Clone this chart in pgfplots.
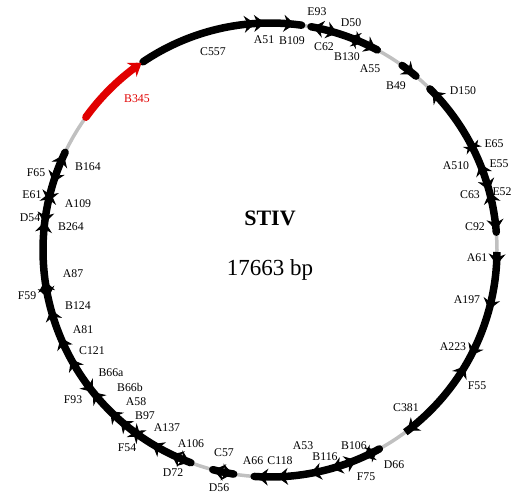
\documentclass[border=0pt]{standalone}
\usepackage{pgfplots}
\pgfplotsset{compat=1.18}
\usepackage{pgfplotstable}
\usetikzlibrary{arrows.meta}
\usepackage{fontspec}
\setmainfont{Liberation Serif}
\definecolor{arcgray}{RGB}{192,192,192}
\definecolor{genered}{RGB}{225,0,0}

% label positions (offsets in px from circle centre)
\pgfplotstableread{
x y label
-57 198 C557
-6 210 A51
22 209 B109
54 203 C62
77 193 B130
100 181 A55
126 164 B49
186 84 A510
200 55 C63
205 23 C92
207 -8 A61
197 -50 A197
183 -97 A223
136 -158 C381
84 -196 B106
55 -207 B116
33 -196 A53
10 -211 C118
-17 -211 A66
-46 -203 C57
-79 -194 A106
-103 -178 A137
-125 -166 B97
-134 -152 A58
-140 -137 B66b
-159 -123 B66a
-178 -101 C121
-187 -80 A81
-192 -56 B124
-197 -24 A87
-199 23 B264
-192 46 A109
-182 83 B164
47 238 E93
81 227 D50
193 159 D150
224 106 E65
229 86 E55
232 58 E52
207 -136 F55
124 -215 D66
96 -227 F75
-51 -238 D56
-97 -223 D72
-143 -198 F54
-197 -150 F93
-243 -46 F59
-240 32 D54
-238 55 E61
-234 77 F65
}\labeltab

% arrow heads: compass angle (deg, clockwise from top), direction (1 = clockwise)
\pgfplotstableread{
phi dir
355.5 1
358.0 1
5.5 1
11.6 -1
16.5 1
21.0 -1
23.5 1
27.0 1
38.6 1
46.4 -1
62 -1
64 1
68.5 -1
74 1
76 -1
84.3 1
93 1
104.5 1
117 1
121.5 -1
142.0 1
152.4 -1
155 1
158.5 -1
163.5 1
169 1
177.5 1
182.5 1
190.2 -1
193.6 1
201.5 -1
205 1
210.5 1
215.5 -1
216.5 1
220.5 1
224 1
230.5 1
232.0 -1
240.5 1
246.5 1
254 1
258.5 -1
261.5 1
276.5 1
277.5 -1
283 -1
284 1
288 -1
294.0 1
}\arrowtab

\begin{document}
\begin{tikzpicture}
\path[use as bounding box] (-270pt,-245pt) rectangle (243pt,250pt);
\begin{axis}[
  x=1pt, y=1pt, anchor=origin, at={(0pt,0pt)},
  xmin=-270, xmax=243, ymin=-245, ymax=250,
  hide axis, clip=false,
]
% background ring
\addplot[arcgray, line width=3.5pt, domain=0:360, samples=181] ({227*sin(x)},{227*cos(x)});
% gene-covered arcs (compass degrees)
\addplot[black, line width=7.5pt, line cap=round, domain=326:368, samples=60] ({227*sin(x)},{227*cos(x)});
\addplot[black, line width=7.5pt, line cap=round, domain=10.4:28.2, samples=30] ({227*sin(x)},{227*cos(x)});
\addplot[black, line width=7.5pt, line cap=round, domain=35.6:40.0, samples=10] ({227*sin(x)},{227*cos(x)});
\addplot[black, line width=7.5pt, line cap=round, domain=44.8:85.5, samples=60] ({227*sin(x)},{227*cos(x)});
\addplot[black, line width=7.5pt, line cap=butt, domain=90.5:143.4, samples=60] ({227*sin(x)},{227*cos(x)});
\addplot[black, line width=7.5pt, line cap=round, domain=151.2:184.0, samples=40] ({227*sin(x)},{227*cos(x)});
\addplot[black, line width=7.5pt, line cap=round, domain=189.2:194.6, samples=10] ({227*sin(x)},{227*cos(x)});
\addplot[black, line width=7.5pt, line cap=round, domain=200.4:295.5, samples=90] ({227*sin(x)},{227*cos(x)});
% red gene B345
\addplot[genered, line width=7.5pt, line cap=round, domain=305.8:324.0, samples=30] ({227*sin(x)},{227*cos(x)});
\addplot[genered, line width=1pt, -{Stealth[length=12pt,width=17pt]}, domain=322.0:325.5, samples=3] ({227*sin(x)},{227*cos(x)});
% arrow heads
\addplot[black, line width=1pt, -{Stealth[length=11pt,width=17pt]},
  quiver={u={3*\thisrow{dir}*cos(\thisrow{phi})}, v={-3*\thisrow{dir}*sin(\thisrow{phi})}}]
  table[x expr={227*sin(\thisrow{phi})}, y expr={227*cos(\thisrow{phi})}] {\arrowtab};
% labels
\addplot[only marks, mark=none, nodes near coords, point meta=explicit symbolic,
  nodes near coords style={anchor=center, inner sep=0pt, font=\fontsize{11.8}{12}\selectfont, text=black}]
  table[x=x, y=y, meta=label] {\labeltab};
\addplot[only marks, mark=none, nodes near coords, point meta=explicit symbolic,
  nodes near coords style={anchor=center, inner sep=0pt, font=\fontsize{11.8}{12}\selectfont, text=genered}]
  table[x=x, y=y, meta=label] {
x y label
-133 151 B345
};
\node[font=\bfseries\fontsize{22}{22}\selectfont] at (axis cs:0,32) {STIV};
\node[font=\fontsize{23}{23}\selectfont] at (axis cs:0,-20) {17663 bp};
\end{axis}
\end{tikzpicture}
\end{document}
